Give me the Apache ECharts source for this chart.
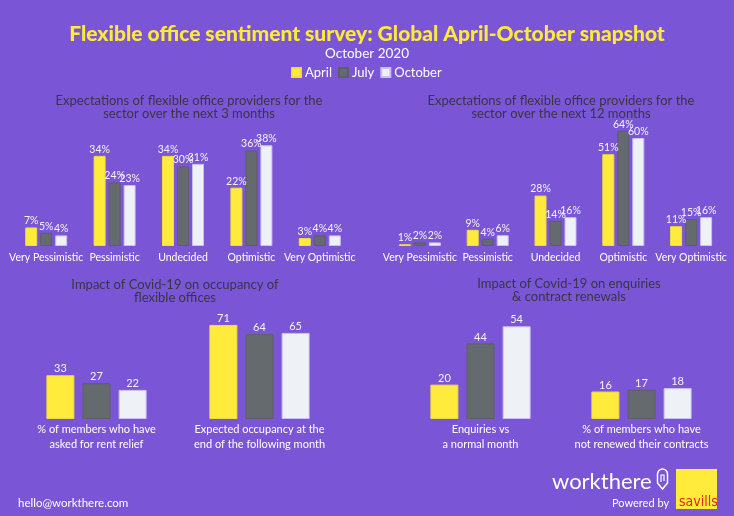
<!DOCTYPE html>
<html><head><meta charset="utf-8">
<script src="https://cdn.jsdelivr.net/npm/echarts@6/dist/echarts.min.js"></script>
<style>html,body{margin:0;padding:0;background:#7a55d6;}#c{width:734px;height:516px;}</style>
</head><body><div id="c"></div>
<script>
const seriesNames = ['April', 'July', 'October'];
const cats3m = ['Very Pessimistic', 'Pessimistic', 'Undecided', 'Optimistic', 'Very Optimistic'];
const april3m = [7, 34, 34, 22, 3];
const july3m = [5, 24, 30, 36, 4];
const october3m = [4, 23, 31, 38, 4];
const cats12m = ['Very Pessimistic', 'Pessimistic', 'Undecided', 'Optimistic', 'Very Optimistic'];
const april12m = [1, 9, 28, 51, 11];
const july12m = [2, 4, 14, 64, 15];
const october12m = [2, 6, 16, 60, 16];
const catsOcc = ['% of members who have\nasked for rent relief', 'Expected occupancy at the\nend of the following month'];
const aprilOcc = [33, 71];
const julyOcc = [27, 64];
const octoberOcc = [22, 65];
const catsEnq = ['Enquiries vs\na normal month', '% of members who have\nnot renewed their contracts'];
const aprilEnq = [20, 16];
const julyEnq = [44, 17];
const octoberEnq = [54, 18];

const FONT = 'Lato';
const colors = ['#ffeb3b', '#656a6e', '#eef2f6'];
const borders = ['#f2dc3a', '#5c6064', '#c9bff0'];
const chart = echarts.init(document.getElementById('c'));

const grids = [
  {left: 12, right: 734 - 354, top: 140, bottom: 516 - 246},
  {left: 386, right: 734 - 725, top: 120, bottom: 516 - 246},
  {left: 15, right: 734 - 341, top: 313, bottom: 516 - 419},
  {left: 400, right: 734 - 722, top: 316, bottom: 516 - 419}
];
const xCats = [cats3m, cats12m, catsOcc, catsEnq];
const yMax = [40, 70, 80, 60];
const dataSets = [
  [april3m, july3m, october3m],
  [april12m, july12m, october12m],
  [aprilOcc, julyOcc, octoberOcc],
  [aprilEnq, julyEnq, octoberEnq]
];
const barW = [12, 12, 28, 28];
const gapPct = ['25%', '25%', '29%', '29%'];
const suffix = ['%', '%', '', ''];

const xAxes = xCats.map((c, i) => ({
  type: 'category', gridIndex: i, data: c,
  axisLine: {show: false}, axisTick: {show: false},
  axisLabel: {color: '#ffffff', fontFamily: FONT, fontSize: i < 2 ? 10.5 : 11, margin: i < 2 ? 4 : 3, lineHeight: 15, interval: 0}
}));
const yAxes = yMax.map((m, i) => ({
  type: 'value', gridIndex: i, min: 0, max: m, show: false, splitLine: {show: false}
}));
const series = [];
dataSets.forEach((set, gi) => {
  set.forEach((d, si) => {
    series.push({
      name: seriesNames[si], type: 'bar', xAxisIndex: gi, yAxisIndex: gi, data: d,
      barWidth: barW[gi], barGap: gapPct[gi],
      itemStyle: {color: colors[si], borderColor: borders[si], borderWidth: 1},
      label: {show: true, position: 'top', distance: 1, color: '#f4f4fa', fontFamily: FONT, fontSize: gi < 2 ? 10.5 : 11,
        formatter: p => p.value + suffix[gi]},
      emphasis: {disabled: true}
    });
  });
});

const subTitleStyle = {color: '#3a3547', fontFamily: FONT, fontSize: 13, fontWeight: 'normal', lineHeight: 13.5};

chart.setOption({
  backgroundColor: '#7a55d6',
  animation: false,
  title: [
    {text: 'Flexible office sentiment survey: Global April-October snapshot', left: 'center', top: 19,
      textStyle: {color: '#ffe93a', fontFamily: FONT, fontSize: 21, fontWeight: 900}},
    {text: 'October 2020', left: 'center', top: 42,
      textStyle: {color: '#ffffff', fontFamily: FONT, fontSize: 13.5, fontWeight: 'normal'}},
    {text: 'Expectations of flexible office providers for the\nsector over the next 3 months', left: 184, top: 89, textAlign: 'center', textStyle: subTitleStyle},
    {text: 'Expectations of flexible office providers for the\nsector over the next 12 months', left: 556, top: 89, textAlign: 'center', textStyle: subTitleStyle},
    {text: 'Impact of Covid-19 on occupancy of\nflexible offices', left: 170, top: 273, textAlign: 'center', textStyle: subTitleStyle},
    {text: 'Impact of Covid-19 on enquiries\n& contract renewals', left: 564, top: 272, textAlign: 'center', textStyle: subTitleStyle}
  ],
  legend: {
    data: seriesNames, top: 61, left: 286, icon: 'rect', itemWidth: 9, itemHeight: 9, itemGap: 6,
    selectedMode: false,
    textStyle: {color: '#ffffff', fontFamily: FONT, fontSize: 13, padding: [0, 0, 0, -1]}
  },
  grid: grids,
  xAxis: xAxes,
  yAxis: yAxes,
  series: series,
  graphic: [
    {type: 'text', x: 18, y: 497, style: {text: 'hello@workthere.com', fill: '#ffffff', font: '11.5px ' + FONT}},
    {type: 'text', x: 552, y: 471, style: {text: 'workthere', fill: '#ffffff', font: '22px ' + FONT}},
    {type: 'arc', shape: {cx: 662.5, cy: 474, r: 5, startAngle: Math.PI, endAngle: 2 * Math.PI, clockwise: true}, style: {stroke: '#ffffff', lineWidth: 1.5, fill: null}},
    {type: 'polyline', shape: {points: [[657.5, 474], [657.5, 483], [662.5, 489], [667.5, 483], [667.5, 474]]}, style: {stroke: '#ffffff', lineWidth: 1.5, fill: null}},
    {type: 'polyline', shape: {points: [[661, 482], [661, 475], [664, 475], [664, 481]]}, style: {stroke: '#ffffff', lineWidth: 1.2, fill: null}},
    {type: 'text', x: 612, y: 498, style: {text: 'Powered by', fill: '#ffffff', font: '11px ' + FONT}},
    {type: 'rect', shape: {x: 676, y: 469, width: 41, height: 40}, style: {fill: '#ffeb3b'}},
    {type: 'text', x: 679, y: 495, style: {text: 'savills', fill: '#e2231a', font: '14px "Liberation Sans Narrow", "DejaVu Sans Condensed", sans-serif'}}
  ]
});
</script>
</body></html>
